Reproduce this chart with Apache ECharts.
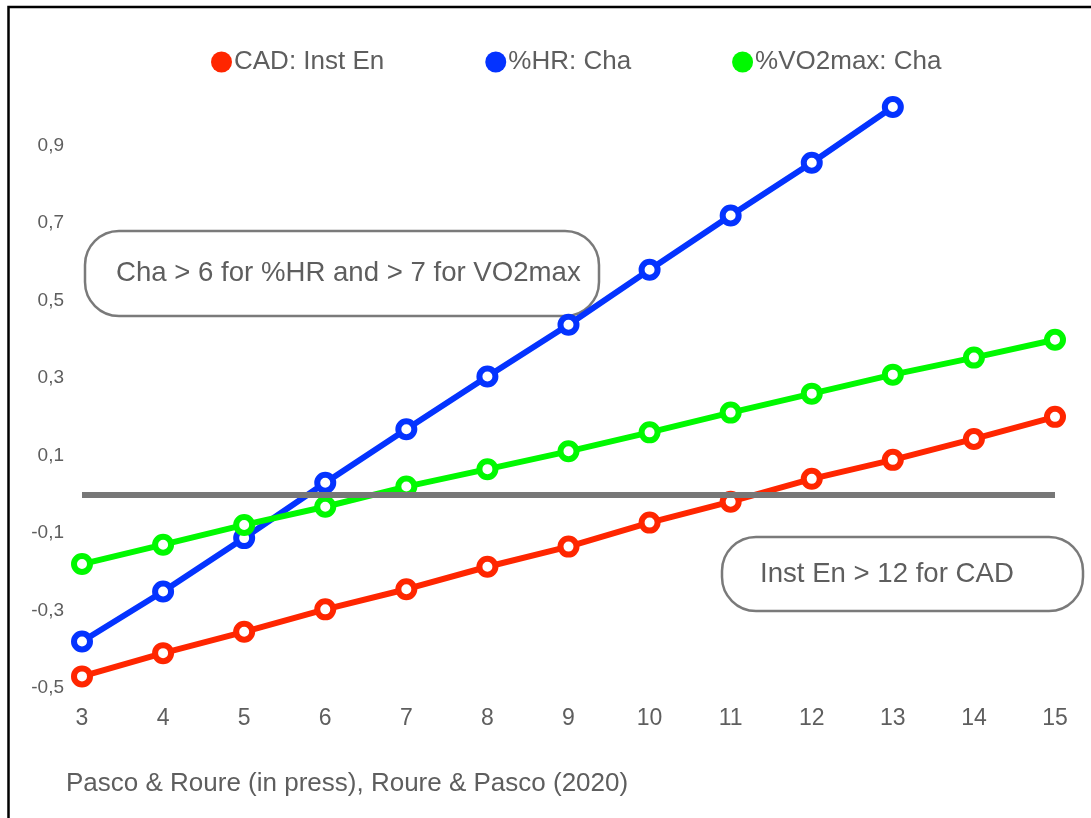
<!DOCTYPE html>
<html>
<head>
<meta charset="utf-8">
<title>CAD / %HR / %VO2max</title>
<script src="https://cdn.jsdelivr.net/npm/echarts@6/dist/echarts.min.js"></script>
<style>
  html, body { margin: 0; padding: 0; background: #fff; }
  #main { width: 1091px; height: 818px; }
</style>
</head>
<body>
<div id="main"></div>
<script>
// x values (3..15)
var xValues = [3, 4, 5, 6, 7, 8, 9, 10, 11, 12, 13, 14, 15];
// CAD: Inst En
var cadValues = [-0.47, -0.41, -0.355, -0.297, -0.245, -0.187, -0.135, -0.073, -0.019, 0.04, 0.089, 0.143, 0.2];
// %HR: Cha (stops at 13)
var hrValues = [-0.38, -0.251, -0.113, 0.03, 0.168, 0.304, 0.438, 0.58, 0.72, 0.856, 1.0];
// %VO2max: Cha
var vo2Values = [-0.18, -0.13, -0.079, -0.032, 0.02, 0.065, 0.111, 0.16, 0.211, 0.26, 0.309, 0.353, 0.399];

var seriesNames = ["CAD: Inst En", "%HR: Cha", "%VO2max: Cha"];
var seriesColors = ["#ff2600", "#0433ff", "#00f900"];
var noteHr = "Cha > 6 for %HR and > 7 for VO2max";
var noteCad = "Inst En > 12 for CAD";
var source = "Pasco & Roure (in press), Roure & Pasco (2020)";

var FONT = "'Liberation Sans', Arial, sans-serif";
var TEXT = "#5e5e5e";

function pairs(ys) {
  var out = [];
  for (var i = 0; i < ys.length; i++) {
    out.push([xValues[i], ys[i]]);
  }
  return out;
}

function lineSeries(name, color, ys) {
  return {
    name: name,
    type: "line",
    data: pairs(ys),
    symbol: "circle",
    symbolSize: 16,
    color: color,
    lineStyle: { width: 6, color: color },
    // white hole, thick coloured ring
    itemStyle: { color: "#fff", borderColor: color, borderWidth: 6 },
    emphasis: { disabled: true },
    z: 2,
  };
}

function noteBox(x, y, w, h, textX, label) {
  return {
    type: "group",
    z: 20,
    children: [
      {
        type: "rect",
        shape: { x: x, y: y, width: w, height: h, r: 34 },
        style: { fill: "#fff", stroke: "#7a7a7a", lineWidth: 2.5 },
      },
      {
        type: "text",
        x: textX,
        y: y + h / 2,
        style: {
          text: label,
          font: "27.6px " + FONT,
          fill: TEXT,
          verticalAlign: "middle",
        },
      },
    ],
  };
}

var legendData = seriesNames.map(function (n, i) {
  return { name: n, itemStyle: { color: seriesColors[i], borderWidth: 0 } };
});

var chart = echarts.init(document.getElementById("main"));

var option = {
  backgroundColor: "#fff",
  animation: false,
  grid: { left: 82, right: 36, top: 107, bottom: 130 },
  legend: {
    left: 211,
    top: 49,
    padding: 0,
    icon: "circle",
    itemWidth: 21,
    itemHeight: 21,
    itemGap: 101,
    textStyle: { fontSize: 26, color: TEXT, fontFamily: FONT, padding: [0, 0, 0, -3] },
    data: legendData,
  },
  xAxis: {
    type: "value",
    min: 3,
    max: 15,
    interval: 1,
    axisLine: { show: false },
    axisTick: { show: false },
    splitLine: { show: false },
    axisLabel: { fontSize: 23, color: TEXT, fontFamily: FONT, margin: 19 },
  },
  yAxis: {
    type: "value",
    min: -0.5,
    max: 1.0,
    interval: 0.2,
    axisLine: { show: false },
    axisTick: { show: false },
    splitLine: { show: false },
    axisLabel: {
      fontSize: 19,
      color: TEXT,
      fontFamily: FONT,
      margin: 18,
      showMaxLabel: false,
      formatter: function (v) {
        return v.toFixed(1).replace(".", ",");
      },
    },
  },
  series: [
    lineSeries(seriesNames[0], seriesColors[0], cadValues),
    lineSeries(seriesNames[1], seriesColors[1], hrValues),
    lineSeries(seriesNames[2], seriesColors[2], vo2Values),
    {
      // zero reference line, drawn above the curves
      type: "line",
      data: [],
      z: 5,
      markLine: {
        silent: true,
        symbol: "none",
        label: { show: false },
        lineStyle: { color: "#777", width: 6, type: "solid" },
        data: [{ yAxis: 0 }],
      },
    },
  ],
  graphic: [
    {
      type: "rect",
      z: 30,
      shape: { x: 8.5, y: 7, width: 1200, height: 1000 },
      style: { fill: "none", stroke: "#000", lineWidth: 2.5 },
    },
    noteBox(85, 231, 514, 85, 116, noteHr),
    noteBox(722, 537, 361, 74, 760, noteCad),
    {
      type: "text",
      left: 66,
      top: 771,
      style: { text: source, font: "26px " + FONT, fill: TEXT },
    },
  ],
};

chart.setOption(option);
</script>
</body>
</html>
